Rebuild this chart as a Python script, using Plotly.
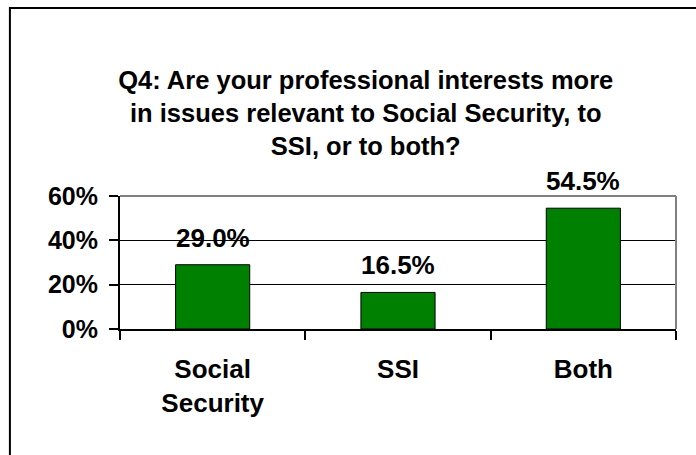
import plotly.graph_objects as go

# Survey responses for Q4
categories = ["Social<br>Security", "SSI", "Both"]
shares = [29.0, 16.5, 54.5]
y_ticks = [0, 20, 40, 60]
y_tick_labels = ["0%", "20%", "40%", "60%"]

FONT = "Liberation Sans, Arial, sans-serif"

fig = go.Figure()
fig.add_trace(go.Bar(
    x=categories,
    y=shares,
    marker=dict(color="#008000", line=dict(color="black", width=1)),
    hoverinfo="skip",
))

# value labels above each bar
for cat, val in zip(categories, shares):
    fig.add_annotation(
        x=cat, y=val, xref="x", yref="y",
        text=f"<b>{val:.1f}%</b>",
        showarrow=False, yanchor="bottom", yshift=10,
        font=dict(family=FONT, size=26, color="black"),
    )

fig.update_layout(
    width=696, height=455,
    margin=dict(l=120, r=20, t=196, b=126),
    paper_bgcolor="white", plot_bgcolor="white",
    showlegend=False,
    bargap=0.6,
    font=dict(family=FONT, size=26, color="black"),
    title=dict(
        text="<b>Q4: Are your professional interests more<br>in issues relevant to Social Security, to<br>SSI, or to both?</b>",
        x=0.442, xref="paper", xanchor="center",
        y=0.805, yref="container", yanchor="middle",
        font=dict(family=FONT, size=25.5, color="black"),
    ),
    xaxis=dict(
        type="category",
        showline=True, linecolor="black", linewidth=2,
        ticks="outside", ticklen=9, tickwidth=2, tickcolor="black",
        tickson="boundaries",
        showgrid=False,
        tickfont=dict(family=FONT, size=26, color="black"),
        ticklabelstandoff=16,
        tickprefix="<b>", ticksuffix="</b>",
    ),
    yaxis=dict(
        range=[0, 60],
        tickvals=y_ticks, ticktext=[f"<b>{t}</b>" for t in y_tick_labels],
        showline=True, linecolor="black", linewidth=2,
        ticks="outside", ticklen=9, tickwidth=2, tickcolor="black",
        showgrid=True, gridcolor="black", gridwidth=1,
        zeroline=False,
        tickfont=dict(family=FONT, size=25, color="black"),
        ticklabelstandoff=6,
    ),
    shapes=[
        # grey plot-area border on top and right
        dict(type="line", xref="paper", yref="paper", x0=0, x1=1, y0=1, y1=1,
             line=dict(color="#808080", width=2)),
        dict(type="line", xref="paper", yref="paper", x0=1, x1=1, y0=0, y1=1,
             line=dict(color="#808080", width=2)),
        # outer chart frame
        dict(type="rect", xref="paper", yref="paper",
             x0=-0.198, x1=1.3, y0=-1.3, y1=2.414,
             line=dict(color="black", width=2), fillcolor="rgba(0,0,0,0)"),
    ],
)

fig.write_html("out.html")
